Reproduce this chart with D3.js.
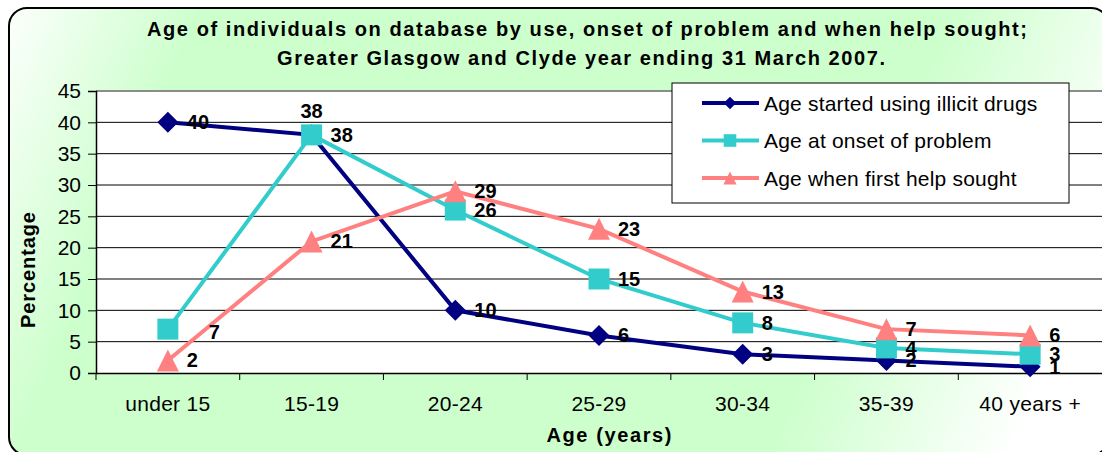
<!DOCTYPE html>
<html>
<head>
<meta charset="utf-8">
<script src="https://cdn.jsdelivr.net/npm/d3@7"></script>
<style>
  body { margin: 0; background: #fff; }
  svg { display: block; font-family: Arial, "Liberation Sans", sans-serif; }
</style>
</head>
<body>
<script>
    let categories = ["under 15", "15-19", "20-24", "25-29", "30-34", "35-39", "40 years +"];
    let startedUsing = [40, 38, 10, 6, 3, 2, 1];
    let onsetOfProblem = [7, 38, 26, 15, 8, 4, 3];
    let helpSought = [2, 21, 29, 23, 13, 7, 6];
    let seriesNames = ["Age started using illicit drugs", "Age at onset of problem", "Age when first help sought"];
    let yTicks = [0, 5, 10, 15, 20, 25, 30, 35, 40, 45];

    let width = 1102, height = 452;
    let plot = {"left": 96, "right": 1102, "top": 91, "bottom": 373};

    // marker shapes, drawn round (0,0)
    let diamond = (r) => "M0," + (-r) + "L" + r + ",0L0," + r + "L" + (-r) + ",0Z";
    let square = (r) => "M" + (-r) + "," + (-r) + "H" + r + "V" + r + "H" + (-r) + "Z";
    let triangle = (r) => "M0," + (-r) + "L" + r + "," + r + "L" + (-r) + "," + r + "Z";

    let styles = [
      {"color": "#000080", "shape": diamond, "r": 10.5},
      {"color": "#33cccc", "shape": square, "r": 10.5},
      {"color": "#ff8080", "shape": triangle, "r": 11}
    ];
    let seriesValues = [startedUsing, onsetOfProblem, helpSought];

    const svg = d3.select("body")
      .append("svg")
      .attr("width", width)
      .attr("height", height);

    let defs = svg.append("defs");
    let grad = defs.append("linearGradient")
      .attr("id", "bg")
      .attr("gradientUnits", "userSpaceOnUse")
      .attr("x1", 0).attr("y1", 0)
      .attr("x2", width).attr("y2", height);
    grad.append("stop").attr("offset", 0).attr("stop-color", "#ffffff");
    grad.append("stop").attr("offset", 0.16).attr("stop-color", "#ccffcc");
    grad.append("stop").attr("offset", 0.74).attr("stop-color", "#ccffcc");
    grad.append("stop").attr("offset", 0.93).attr("stop-color", "#ffffff");

    svg.append("rect")
      .attr("x", 9).attr("y", 8)
      .attr("width", 1100).attr("height", 447)
      .attr("rx", 18)
      .attr("fill", "url(#bg)")
      .attr("stroke", "#000")
      .attr("stroke-width", 2);

    // title
    svg.append("text")
      .text("Age of individuals on database by use, onset of problem and when help sought;")
      .attr("x", 587).attr("y", 36)
      .attr("text-anchor", "middle")
      .attr("textLength", 880)
      .attr("lengthAdjust", "spacing")
      .style("font-size", "20px")
      .style("font-weight", "bold");

    svg.append("text")
      .text("Greater Glasgow and Clyde year ending 31 March 2007.")
      .attr("x", 581).attr("y", 65)
      .attr("text-anchor", "middle")
      .attr("textLength", 608)
      .attr("lengthAdjust", "spacing")
      .style("font-size", "20px")
      .style("font-weight", "bold");

    // plot area
    svg.append("rect")
      .attr("x", plot.left).attr("y", plot.top)
      .attr("width", plot.right - plot.left).attr("height", plot.bottom - plot.top)
      .attr("fill", "#fff");
    svg.append("line")
      .attr("x1", plot.left).attr("x2", plot.right)
      .attr("y1", plot.top).attr("y2", plot.top)
      .attr("stroke", "#8c8c8c").attr("stroke-width", 2);

    let xscale = d3.scaleBand()
      .domain(categories)
      .range([plot.left, plot.right]);

    let yscale = d3.scaleLinear()
      .domain([0, 45])
      .range([plot.bottom, plot.top]);

    let cx = (c) => xscale(c) + xscale.bandwidth() / 2;

    // gridlines
    svg.append("g")
      .selectAll("line")
      .data(yTicks.filter((d) => d > 0 && d < 45))
      .enter()
      .append("line")
      .attr("x1", plot.left).attr("x2", plot.right)
      .attr("y1", (d) => yscale(d)).attr("y2", (d) => yscale(d))
      .attr("stroke", "#000").attr("stroke-width", 1);

    let y_axis = d3.axisLeft(yscale)
      .tickValues(yTicks)
      .tickSize(8)
      .tickPadding(7)
      .tickFormat(d3.format("d"));

    let gy = svg.append("g")
      .attr("transform", "translate(" + plot.left + ",0)")
      .call(y_axis);
    gy.select(".domain").attr("stroke", "#000").attr("stroke-width", 1.5);
    gy.selectAll("text").style("font-size", "21px").style("font-family", "Arial, 'Liberation Sans', sans-serif").attr("fill", "#000");

    let x_axis = d3.axisBottom(xscale)
      .tickSize(0)
      .tickPadding(23);

    let gx = svg.append("g")
      .attr("transform", "translate(0," + plot.bottom + ")")
      .call(x_axis);
    gx.select(".domain").attr("stroke", "#000").attr("stroke-width", 1.5);
    gx.selectAll("text").style("font-size", "21px").style("letter-spacing", "0.3px").style("font-family", "Arial, 'Liberation Sans', sans-serif").attr("fill", "#000");
    gx.selectAll(".bound")
      .data(categories)
      .enter()
      .append("line")
      .attr("x1", (d) => xscale(d)).attr("x2", (d) => xscale(d))
      .attr("y1", 0).attr("y2", 7)
      .attr("stroke", "#000");

    // axis titles
    svg.append("text")
      .text("Percentage")
      .attr("transform", "translate(35,270) rotate(-90)")
      .attr("text-anchor", "middle")
      .attr("textLength", 116)
      .attr("lengthAdjust", "spacing")
      .style("font-size", "20px")
      .style("font-weight", "bold");

    svg.append("text")
      .text("Age (years)")
      .attr("x", 609).attr("y", 442)
      .attr("text-anchor", "middle")
      .attr("textLength", 125)
      .attr("lengthAdjust", "spacing")
      .style("font-size", "20px")
      .style("font-weight", "bold");

    // series
    let line = d3.line()
      .x((d, i) => cx(categories[i]))
      .y((d) => yscale(d));

    seriesValues.forEach((vals, s) => {
      let g = svg.append("g");
      g.append("path")
        .attr("d", line(vals))
        .attr("fill", "none")
        .attr("stroke", styles[s].color)
        .attr("stroke-width", 4);
      g.selectAll("path.m")
        .data(vals)
        .enter()
        .append("path")
        .attr("class", "m")
        .attr("d", styles[s].shape(styles[s].r))
        .attr("transform", (d, i) => "translate(" + cx(categories[i]) + "," + yscale(d) + ")")
        .attr("fill", styles[s].color);
    });

    // data labels (right of point; two hand-moved ones)
    seriesValues.forEach((vals, s) => {
      svg.append("g")
        .selectAll("text")
        .data(vals)
        .enter()
        .append("text")
        .text((d) => d)
        .attr("x", (d, i) => {
          if (s === 0 && i === 1) return cx(categories[i]);
          if (s === 1 && i === 0) return cx(categories[i]) + 41;
          return cx(categories[i]) + 19;
        })
        .attr("y", (d, i) => {
          if (s === 0 && i === 1) return yscale(d) - 24;
          if (s === 1 && i === 0) return yscale(d) + 3;
          return yscale(d);
        })
        .attr("dy", "0.35em")
        .attr("text-anchor", (d, i) => (s === 0 && i === 1) ? "middle" : "start")
        .style("font-size", "20px")
        .style("font-weight", "bold");
    });

    // legend
    let legend = svg.append("g")
      .attr("transform", "translate(672,83)");
    legend.append("rect")
      .attr("width", 397).attr("height", 120)
      .attr("fill", "#fff")
      .attr("stroke", "#000")
      .attr("stroke-width", 1);
    let items = legend.selectAll("g")
      .data(seriesNames)
      .enter()
      .append("g")
      .attr("transform", (d, i) => "translate(0," + (20 + i * 37.5) + ")");
    items.append("line")
      .attr("x1", 30).attr("x2", 87)
      .attr("stroke", (d, i) => styles[i].color)
      .attr("stroke-width", 4);
    items.append("path")
      .attr("d", (d, i) => styles[i].shape(styles[i].r * 0.6))
      .attr("transform", "translate(58,0)")
      .attr("fill", (d, i) => styles[i].color);
    items.append("text")
      .text((d) => d)
      .attr("x", 92)
      .attr("dy", "0.36em")
      .style("font-size", "21px")
      .style("letter-spacing", "0.2px");
</script>
</body>
</html>
